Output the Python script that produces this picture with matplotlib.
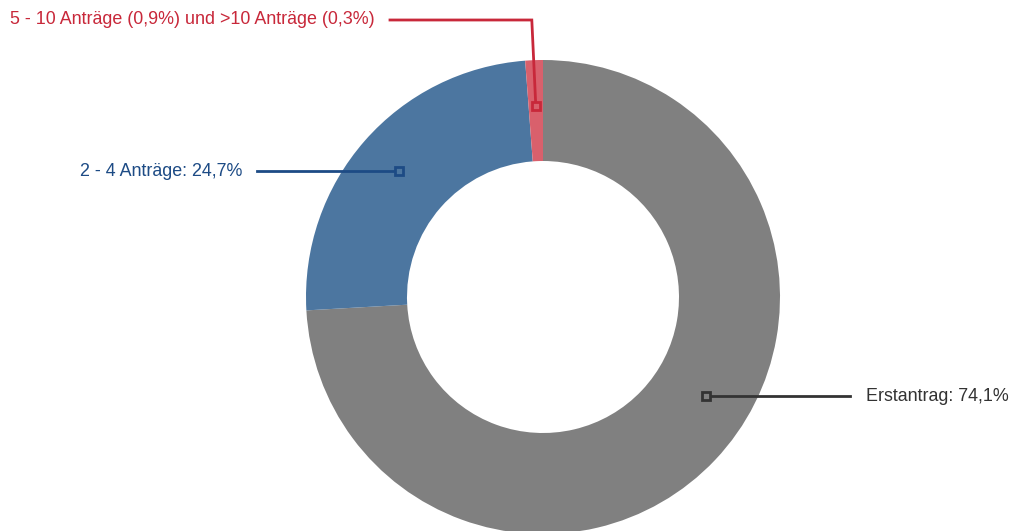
import numpy as np
import matplotlib.pyplot as plt

# --- data ---
labels = ["Erstantrag: 74,1%", "2 - 4 Anträge: 24,7%",
          "5 - 10 Anträge (0,9%) und >10 Anträge (0,3%)"]
values = [74.1, 24.7, 1.2]

# --- style ---
slice_colors = ["#808080", "#4c76a0", "#d9606c"]
text_colors = ["#333333", "#1d4b85", "#c8283a"]

W, H = 1010, 531
cx, cy = 543, H - 297
r_out, ring = 237, 101
r_lab = 191

fig = plt.figure(figsize=(W / 100, H / 100), dpi=100)
ax = fig.add_axes([0, 0, 1, 1])
wedges, _ = ax.pie(values, colors=slice_colors, startangle=90, counterclock=False,
                   center=(cx, cy), radius=r_out, frame=True,
                   wedgeprops=dict(width=ring, linewidth=0))
ax.set_xlim(0, W)
ax.set_ylim(0, H)
ax.set_aspect("equal")
ax.axis("off")

# where along each wedge the connector starts (0 = start, 1 = end)
frac = [0.455, 0.5, 0.5]
# label end points (x of line end, y of row) in pixels
ends = [(850, 396), (257, 170), (390, 20)]

for w, f, (ex, ey), lab, tc in zip(wedges, frac, ends, labels, text_colors):
    a = np.deg2rad(w.theta2 - f * (w.theta2 - w.theta1))
    mx, my = cx + r_lab * np.cos(a), cy + r_lab * np.sin(a)
    ey = H - ey
    if abs(my - ey) > 5:
        xs, ys = [mx, mx - 4, ex], [my, ey, ey]
    else:
        xs, ys = [mx, ex], [my, my]
        ey = my
    ax.plot(xs, ys, color=tc, lw=2, solid_joinstyle="miter", zorder=3)
    ax.plot(mx, my, marker="s", ms=6, mfc=w.get_facecolor(), mec=tc, mew=2, zorder=4)
    if ex > mx:
        ax.text(ex + 16, ey, lab, color=tc, fontsize=12.9, family="Liberation Sans",
                ha="left", va="center")
    else:
        ax.text(ex - 15, ey, lab, color=tc, fontsize=12.9, family="Liberation Sans",
                ha="right", va="center")

fig.savefig("out.png", dpi=100)
